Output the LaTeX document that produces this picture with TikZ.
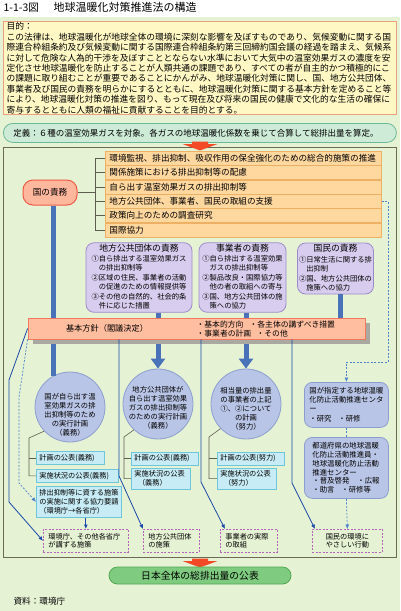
\documentclass[tikz,border=0pt]{standalone}
\usepackage{fontspec}
\setmainfont{Noto Sans CJK JP}
\usepackage{xcolor}
\usetikzlibrary{arrows.meta,shadows}

\definecolor{bggreen}{HTML}{E6F2D4}
\definecolor{aimfill}{HTML}{FFF8C4}
\definecolor{aimline}{HTML}{EFA080}
\definecolor{deffill}{HTML}{CDEBD6}
\definecolor{defline}{HTML}{6CB898}
\definecolor{frameline}{HTML}{6B6B55}
\definecolor{orfill}{HTML}{FFD8A0}
\definecolor{orline}{HTML}{EDB064}
\definecolor{kunifill}{HTML}{FFB89E}
\definecolor{kuniline}{HTML}{F05A46}
\definecolor{dutyfill}{HTML}{D8CDEE}
\definecolor{dutyline}{HTML}{9C8BC9}
\definecolor{barblue}{HTML}{4A72B8}
\definecolor{kihonfill}{HTML}{FFBEA0}
\definecolor{kihonline}{HTML}{F0785E}
\definecolor{shadowgray}{HTML}{A9A9A1}
\definecolor{planfill}{HTML}{B9C5E6}
\definecolor{planline}{HTML}{8C9ECF}
\definecolor{pubfill}{HTML}{C7ECF5}
\definecolor{publine}{HTML}{6EC6DB}
\definecolor{lineblue}{HTML}{1848A8}
\definecolor{dashblue}{HTML}{4C84CC}
\definecolor{dashpurple}{HTML}{B463B8}
\definecolor{redarrow}{HTML}{F24A26}
\definecolor{sumfill}{HTML}{7FCB7F}
\definecolor{sumline}{HTML}{52A852}
\definecolor{brkgray}{HTML}{5E5E50}

\newcommand{\fsz}[2]{\fontsize{#1}{#2}\selectfont}

\begin{document}
\begin{tikzpicture}[x=1pt, y=-1pt, line width=0.6pt,
  aimbox/.style={draw=aimline, fill=aimfill, line width=1pt, anchor=north west,
    text width=387pt, inner xsep=3pt, inner ysep=1pt, minimum height=92pt,
    align=left, font=\fsz{8.75}{10.4}},
  defbox/.style={draw=defline, fill=deffill, line width=0.8pt, rounded corners=9.5pt,
    anchor=north west, text width=373pt, inner xsep=10pt, inner ysep=0pt,
    minimum height=19pt, align=left, font=\fsz{8.5}{10}},
  orbox/.style={draw=orline, fill=orfill, line width=0.8pt, anchor=north west,
    text width=268pt, inner xsep=4pt, inner ysep=0pt, minimum height=14pt,
    align=left, font=\fsz{8.6}{10}},
  kunibox/.style={draw=kuniline, fill=kunifill, line width=1pt, rounded corners=10pt,
    minimum width=54pt, minimum height=25pt, font=\fsz{8.6}{10}},
  dutybox/.style={draw=dutyline, fill=dutyfill, line width=0.8pt, rounded corners=8pt,
    inner sep=1pt, font=\fsz{7.3}{8.6}},
  basebox/.style={draw=kihonline, fill=kihonfill, line width=0.8pt,
    minimum width=337pt, minimum height=21pt,
    drop shadow={shadow xshift=5pt, shadow yshift=-5pt, fill=shadowgray, opacity=1}},
  planc/.style={circle, draw=planline, fill=planfill, line width=0.8pt, minimum size=70pt},
  plantext/.style={align=center, font=\fsz{7.3}{8.9}},
  pubbox/.style={draw=publine, fill=pubfill, line width=0.8pt, anchor=north west,
    inner xsep=3pt, inner ysep=0.5pt, align=left, font=\fsz{7.2}{8.7}},
  supportbox/.style={draw=planline, fill=planfill, line width=0.8pt, rounded corners=8pt,
    anchor=north west, align=left, font=\fsz{7.4}{8.7}},
  effectbox/.style={draw=dashpurple, dash pattern=on 2pt off 1.5pt, line width=0.7pt,
    anchor=north west, inner xsep=5pt, inner ysep=0.5pt, minimum height=23pt,
    align=left, font=\fsz{7.2}{8.5}},
  sumbox/.style={draw=sumline, fill=sumfill, line width=0.8pt, rounded corners=8.5pt,
    minimum width=182pt, minimum height=17pt, font=\fsz{9.8}{11}},
  bluebar/.style={draw=barblue, line width=5pt},
  bracketline/.style={draw=brkgray, line width=0.6pt},
  thinarrow/.style={draw=lineblue, line width=0.8pt, -{Latex[length=4.5pt,width=4pt]}},
  dashline/.style={draw=dashblue, line width=0.7pt, dash pattern=on 2pt off 1.5pt},
  dasharrow/.style={dashline, -{Latex[length=4.5pt,width=4pt]}},
  redarr/.style={fill=redarrow}]
  \useasboundingbox (0,0) rectangle (400,611);
  % background
  \fill[bggreen] (0,17) rectangle (400,611);
  % title
  \node[anchor=west, font=\fsz{10.5}{12}] (fignum) at (0,7.5) {1-1-3図};
  \node[anchor=west, font=\fsz{11}{12}] (title) at (50,7.5) {地球温暖化対策推進法の構造};
  % purpose and definition
  \node[aimbox] (aim) at (3,21) {目的：\\
    この法律は、地球温暖化が地球全体の環境に深刻な影響を及ぼすものであり、気候変動に関する国\\
    際連合枠組条約及び気候変動に関する国際連合枠組条約第三回締約国会議の経過を踏まえ、気候系\\
    に対して危険な人為的干渉を及ぼすこととならない水準において大気中の温室効果ガスの濃度を安\\
    定化させ地球温暖化を防止することが人類共通の課題であり、すべての者が自主的かつ積極的にこ\\
    の課題に取り組むことが重要であることにかんがみ、地球温暖化対策に関し、国、地方公共団体、\\
    事業者及び国民の責務を明らかにするとともに、地球温暖化対策に関する基本方針を定めること等\\
    により、地球温暖化対策の推進を図り、もって現在及び将来の国民の健康で文化的な生活の確保に\\
    寄与するとともに人類の福祉に貢献することを目的とする。};
  \node[defbox] (def) at (3,123) {定義：６種の温室効果ガスを対象。各ガスの地球温暖化係数を乗じて合算して総排出量を算定。};
  % frame
  \draw[draw=frameline, line width=0.8pt] (3,147) rectangle (396,557);
  % big red arrows
  \coordinate (arrA) at (200,141.5);
  \coordinate (arrB) at (200,558.5);
  \foreach \c in {arrA,arrB}
    \fill[redarr] (\c) ++(-8,0) -- ++(16,0) -- ++(0,2.5) -- ++(9.5,0) -- ++(-17.5,6.5)
      -- ++(-17.5,-6.5) -- ++(9.5,0) -- cycle;
  % duties of the state
  \foreach \t [count=\i] in {環境監視、排出抑制、吸収作用の保全強化のための総合的施策の推進,
      関係施策における排出抑制等の配慮, 自ら出す温室効果ガスの排出抑制等,
      地方公共団体、事業者、国民の取組の支援, 政策向上のための調査研究, 国際協力}
    \node[orbox] (o\i) at (105,{136.3+14.4*\i}) {\t};
  \node[kunibox] (kuni) at (50,192.5) {国の責務};
  \coordinate (brk) at (95,192);
  \draw[bracketline] (kuni.east) -- (kuni.east -| brk);
  \draw[bracketline] (o1.west) -- (o1.west -| brk) -- (o6.west -| brk) -- (o6.west);
  \foreach \i in {2,...,5} \draw[bracketline] (o\i.west) -- (o\i.west -| brk);
  % plans
  \node[planc] (c1) at (70,407) {};
  \node[planc] (c2) at (158,404) {};
  \node[planc] (c3) at (246,404) {};
  \node[plantext] (c1t) at (70,415) {国が自ら出す温\\室効果ガスの排\\出抑制等のため\\の実行計画\\（義務）};
  \node[plantext] (c2t) at (158,408) {地方公共団体が\\自ら出す温室効果\\ガスの排出抑制等\\のための実行計画\\（義務）};
  \node[plantext] (c3t) at (246,409) {相当量の排出量\\の事業者の上記\\①、②について\\の計画\\（努力）};
  \coordinate (bar1) at ([xshift=3.5pt]kuni.south);
  \draw[bluebar] (bar1) -- (bar1 |- c1.118);
  % basic policy
  \node[basebox] (kihon) at (196.5,328.5) {};
  \node[font=\fsz{8.2}{10}] (kihonT) at (107,328.5) {基本方針（閣議決定）};
  \node[anchor=west, align=left, font=\fsz{7.8}{8.4}] (kihonL) at (193,329)
    {\makebox[53pt][l]{・基本的方向}・各主体の講ずべき措置\\\makebox[60pt][l]{・事業者の計画}・その他};
  % duties of the other actors
  \node[dutybox, minimum width=106pt, minimum height=69pt] (pA) at (139,277.5) {%
    \begin{tabular}{@{}l@{}}
    \multicolumn{1}{@{}c@{}}{\fsz{8.8}{10}地方公共団体の責務}\\[2pt]
    ①自ら排出する温室効果ガス\\
    \hspace{1em}の排出抑制等\\[1.5pt]
    ②区域の住民、事業者の活動\\
    \hspace{1em}の促進のための情報提供等\\[1.5pt]
    ③その他の自然的、社会的条\\
    \hspace{1em}件に応じた措置
    \end{tabular}};
  \node[dutybox, minimum width=87pt, minimum height=69pt] (pB) at (242.5,277.5) {%
    \begin{tabular}{@{}l@{}}
    \multicolumn{1}{@{}c@{}}{\fsz{8.8}{10}事業者の責務}\\[2pt]
    ①自ら排出する温室効果\\
    \hspace{1em}ガスの排出抑制等\\[1.5pt]
    ②製品改良・国際協力等\\
    \hspace{1em}他の者の取組への寄与\\[1.5pt]
    ③国、地方公共団体の施\\
    \hspace{1em}策への協力
    \end{tabular}};
  \node[dutybox, minimum width=76pt, minimum height=51pt] (pC) at (335.5,268.5) {%
    \begin{tabular}{@{}l@{}}
    \multicolumn{1}{@{}c@{}}{\fsz{8.8}{10}国民の責務}\\[2pt]
    ①日常生活に関する排\\
    \hspace{1em}出抑制\\[1.5pt]
    ②国、地方公共団体の\\
    \hspace{1em}施策への協力
    \end{tabular}};
  \coordinate (xA) at (158,0);
  \coordinate (xB) at (246,0);
  \coordinate (xC) at (340,0);
  \draw[bluebar] (pA.south -| xA) -- (kihon.north -| xA);
  \draw[bluebar] (pB.south -| xB) -- (kihon.north -| xB);
  \draw[bluebar] (pC.south -| xC) -- (kihon.north -| xC);
  \coordinate (kb) at ([yshift=-5pt]kihon.south);
  \foreach \c/\x in {c2/xA, c3/xB}
    \draw[bluebar, -{Triangle[width=14pt,length=10pt]}] (kb -| \x) -- (\c.north);
  % publication
  \node[pubbox, text width=62pt, minimum height=13pt] (pubA1) at (36,451) {計画の公表(義務)};
  \node[pubbox, text width=76pt, minimum height=13pt] (pubB1) at (36,469) {実施状況の公表(義務)};
  \node[pubbox, text width=79pt, minimum height=31pt] (pubC1) at (36,486)
    {排出抑制等に資する施策\\の実施に関する協力要請\\（環境庁→各省庁）};
  \node[pubbox, text width=61pt, minimum height=12.5pt] (pubA2) at (131,452) {計画の公表(義務)};
  \node[pubbox, text width=53pt, minimum height=20.5pt] (pubB2) at (131,468)
    {実施状況の公表\\\hspace*{.5em}（義務）};
  \node[pubbox, text width=61pt, minimum height=12.5pt] (pubA3) at (217,452) {計画の公表(努力)};
  \node[pubbox, text width=53pt, minimum height=20.5pt] (pubB3) at (217,468)
    {実施状況の公表\\\hspace*{.5em}（努力）};
  \coordinate (bk1) at (29,438);
  \coordinate (bk2) at (124,437);
  \coordinate (bk3) at (209,437);
  \foreach \n/\a in {1/223, 2/227, 3/224} {
    \draw[bracketline] (c\n.\a) -- (bk\n) |- (pubB\n.west);
    \draw[bracketline] (bk\n |- pubA\n.west) -- (pubA\n.west);
  }
  % support centres
  \node[supportbox, text width=74pt, inner xsep=5pt, minimum height=45pt] (ctr) at (304,382)
    {国が指定する地球温暖\\化防止活動推進センタ\\ー\\[1.5pt]\makebox[29pt][l]{・研究}・研修};
  \node[supportbox, text width=68pt, inner xsep=8pt, minimum height=61pt] (pref) at (304,437)
    {都道府県の地球温暖\\化防止活動推進員・\\地球温暖化防止活動\\推進センター\\\makebox[45pt][l]{・普及啓発}・広報\\\makebox[29pt][l]{・助言}・研修等};
  \coordinate (dr) at (388,362);
  \draw[dasharrow] (o4.east) -- (o4.east -| dr) -- (dr) -- (dr -| ctr.north) -- (ctr.north);
  \draw[dashline] (ctr.south) -- (pref.north);
  % measures taken
  \node[effectbox, text width=75pt] (g1) at (43,529) {環境庁、その他各省庁\\が講ずる施策};
  \node[effectbox, text width=46pt] (g2) at (143,529) {地方公共団体\\の施策};
  \node[effectbox, text width=47pt] (g3) at (220,529) {事業者の実際\\の取組};
  \node[effectbox, text width=60pt, align=center] (g4) at (312,529) {国民の環境に\\やさしい行動};
  \draw[dasharrow] (pref.south) -- (g4.north);
  % thin connectors
  \coordinate (lb1) at (9,380);
  \coordinate (lb2) at (9,502);
  \draw[thinarrow] (kihon.west) -- (lb1) -- (lb2) -- (g1.west);
  \coordinate (ld1) at (19,397);
  \coordinate (ld2) at (19,483);
  \draw[dasharrow] (kihon.south west) -- (ld1) -- (ld2) -- (pubC1.west);
  \coordinate (lm1) at (119,476);
  \coordinate (lm2) at (201,482);
  \coordinate (lm3) at (292,483);
  \draw[thinarrow] (kihon.south -| lm1) -- (lm1) -- (g2.north west);
  \draw[thinarrow] (kihon.south -| lm2) -- (lm2) -- ([xshift=5pt]g3.north west);
  \draw[thinarrow] (kihon.south -| lm3) -- (lm3) -- ([xshift=3pt]g4.north west);
  \draw[thinarrow] (g1.north |- pubC1.south) -- (g1.north);
  % total
  \node[sumbox] (sum) at (200,575.5) {日本全体の総排出量の公表};
  \node[anchor=west, font=\fsz{8.6}{10}] (src) at (10,601) {資料：環境庁};
\end{tikzpicture}
\end{document}
